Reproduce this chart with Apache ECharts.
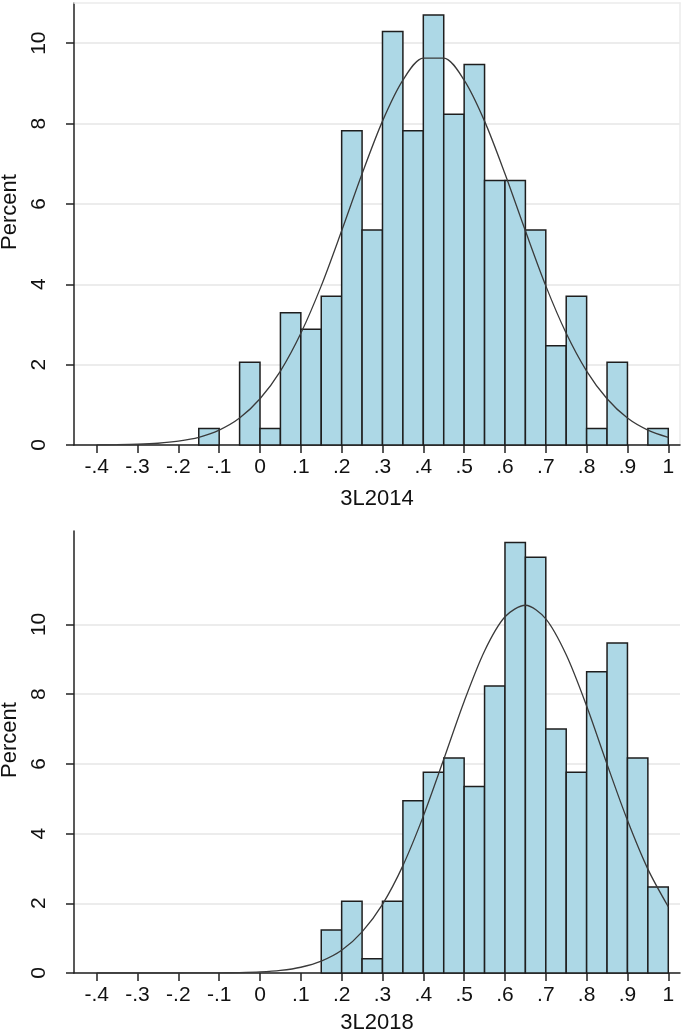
<!DOCTYPE html>
<html>
<head>
<meta charset="utf-8">
<script src="https://cdn.jsdelivr.net/npm/echarts@6/dist/echarts.min.js"></script>
<style>
html,body{margin:0;padding:0;background:#fff;}
#chart{width:685px;height:1035px;}
</style>
</head>
<body>
<div id="chart"></div>
<script>
// ---- data ----
const binWidth = 0.05;
const bins2014 = [-0.15,-0.10,-0.05,0.00,0.05,0.10,0.15,0.20,0.25,0.30,0.35,0.40,0.45,0.50,0.55,0.60,0.65,0.70,0.75,0.80,0.85,0.90,0.95];
const pct2014  = [0.41,0,2.06,0.41,3.29,2.88,3.70,7.82,5.35,10.29,7.82,10.70,8.23,9.47,6.58,6.58,5.35,2.47,3.70,0.41,2.06,0,0.41];
const bins2018 = [0.15,0.20,0.25,0.30,0.35,0.40,0.45,0.50,0.55,0.60,0.65,0.70,0.75,0.80,0.85,0.90,0.95];
const pct2018  = [1.23,2.06,0.41,2.06,4.94,5.76,6.17,5.35,8.23,12.35,11.93,7.00,5.76,8.64,9.47,6.17,2.47];
const curveX = [-0.40,-0.35,-0.30,-0.25,-0.20,-0.15,-0.10,-0.05,0.00,0.05,0.10,0.15,0.20,0.25,0.30,0.35,0.40,0.45,0.50,0.55,0.60,0.65,0.70,0.75,0.80,0.85,0.90,0.95,1.00];
const curve2014 = [0.003,0.008,0.019,0.044,0.096,0.19,0.37,0.67,1.15,1.84,2.78,3.96,5.33,6.75,8.06,9.08,9.63,9.63,9.08,8.06,6.75,5.33,3.96,2.78,1.84,1.15,0.67,0.37,0.19];
const curve2018 = [0,0,0,0.0001,0.0005,0.0016,0.0045,0.012,0.031,0.074,0.165,0.34,0.65,1.18,1.97,3.08,4.50,6.13,7.79,9.24,10.22,10.55,10.16,9.13,7.66,5.99,4.38,2.98,1.90];
const xTicks = [-0.4,-0.3,-0.2,-0.1,0,0.1,0.2,0.3,0.4,0.5,0.6,0.7,0.8,0.9,1];
const yTicks = [0,2,4,6,8,10];
const xTitles = ['3L2014','3L2018'];
const yTitle = 'Percent';

// ---- chart ----
const FONT = 'Liberation Sans, Arial, sans-serif';
const FS = 21;
function fmtX(v){
  if (v === 0) return '0';
  if (v === 1) return '1';
  const s = String(Math.abs(v)).replace(/^0/, '');
  return (v < 0 ? '-' : '') + s;
}
function histData(bins, pct){
  const out = [];
  bins.forEach((b,i)=>{ if (pct[i] > 0) out.push([b, b + binWidth, pct[i]]); });
  return out;
}
function renderBar(params, api){
  const p0 = api.coord([api.value(0), api.value(2)]);
  const p1 = api.coord([api.value(1), 0]);
  return {
    type: 'rect',
    shape: {x: p0[0], y: p0[1], width: p1[0]-p0[0], height: p1[1]-p0[1]},
    style: {fill: '#add8e6', stroke: '#1e1e1e', lineWidth: 1.5}
  };
}
const grids = [
  {left: 74, right: 5, top: 3, height: 442, containLabel: false, outerBoundsMode: 'none'},
  {left: 74, right: 5, top: 531, height: 442, containLabel: false, outerBoundsMode: 'none'}
];
const yMax = [11, 12.68];
const xAxes = [], yAxes = [];
[0,1].forEach(i=>{
  xAxes.push({
    type: 'value', gridIndex: i, min: -0.4556, max: 1.0287,
    name: xTitles[i], nameLocation: 'middle', nameGap: i===0 ? 43 : 39,
    nameTextStyle: {fontFamily: FONT, fontSize: 22, color: '#111'},
    axisLine: {show: true, onZero: false, lineStyle: {color: '#222', width: 1.5}},
    axisTick: {show: true, length: 8, lineStyle: {color: '#222', width: 1.5}, customValues: xTicks},
    axisLabel: {fontFamily: FONT, fontSize: FS, color: '#111', margin: 12, formatter: fmtX, customValues: xTicks},
    splitLine: {show: false}
  });
  yAxes.push({
    type: 'value', gridIndex: i, min: 0, max: yMax[i], interval: 2,
    name: yTitle, nameLocation: 'middle', nameGap: 45,
    nameTextStyle: {fontFamily: FONT, fontSize: 22, color: '#111', padding: [0, 0, 0, 24]},
    axisLine: {show: true, onZero: false, lineStyle: {color: '#222', width: 1.5}},
    axisTick: {show: true, length: 8, lineStyle: {color: '#222', width: 1.5}, customValues: yTicks},
    axisLabel: {fontFamily: FONT, fontSize: FS, color: '#111', rotate: 90, margin: 24, customValues: yTicks},
    splitLine: {show: true, lineStyle: {color: ['#e6e6e6','#e6e6e6','#e6e6e6','#e6e6e6','#e6e6e6','#e6e6e6','rgba(0,0,0,0)'], width: 1.5}}
  });
});
// light frame (top & right) for the first panel
xAxes.push({type: 'value', gridIndex: 0, position: 'top', min: -0.4556, max: 1.0287,
  axisLine: {show: true, onZero: false, lineStyle: {color: '#ebebeb', width: 1.5}}, axisTick: {show: false}, axisLabel: {show: false}, splitLine: {show: false}});
yAxes.push({type: 'value', gridIndex: 0, position: 'right', min: 0, max: 11,
  axisLine: {show: true, onZero: false, lineStyle: {color: '#ebebeb', width: 1.5}}, axisTick: {show: false}, axisLabel: {show: false}, splitLine: {show: false}});

const option = {
  animation: false,
  backgroundColor: '#fff',
  grid: grids,
  xAxis: xAxes,
  yAxis: yAxes,
  series: [
    {type: 'custom', xAxisIndex: 0, yAxisIndex: 0, renderItem: renderBar, data: histData(bins2014, pct2014), z: 2},
    {type: 'line', xAxisIndex: 0, yAxisIndex: 0, data: curveX.map((x,i)=>[x, curve2014[i]]), smooth: 0.3,
     showSymbol: false, lineStyle: {color: '#3a3a3a', width: 1.3}, z: 3},
    {type: 'custom', xAxisIndex: 1, yAxisIndex: 1, renderItem: renderBar, data: histData(bins2018, pct2018), z: 2},
    {type: 'line', xAxisIndex: 1, yAxisIndex: 1, data: curveX.map((x,i)=>[x, curve2018[i]]), smooth: 0.3,
     showSymbol: false, lineStyle: {color: '#3a3a3a', width: 1.3}, z: 3}
  ]
};
const chart = echarts.init(document.getElementById('chart'), null, {renderer: 'canvas'});
chart.setOption(option);
</script>
</body>
</html>
